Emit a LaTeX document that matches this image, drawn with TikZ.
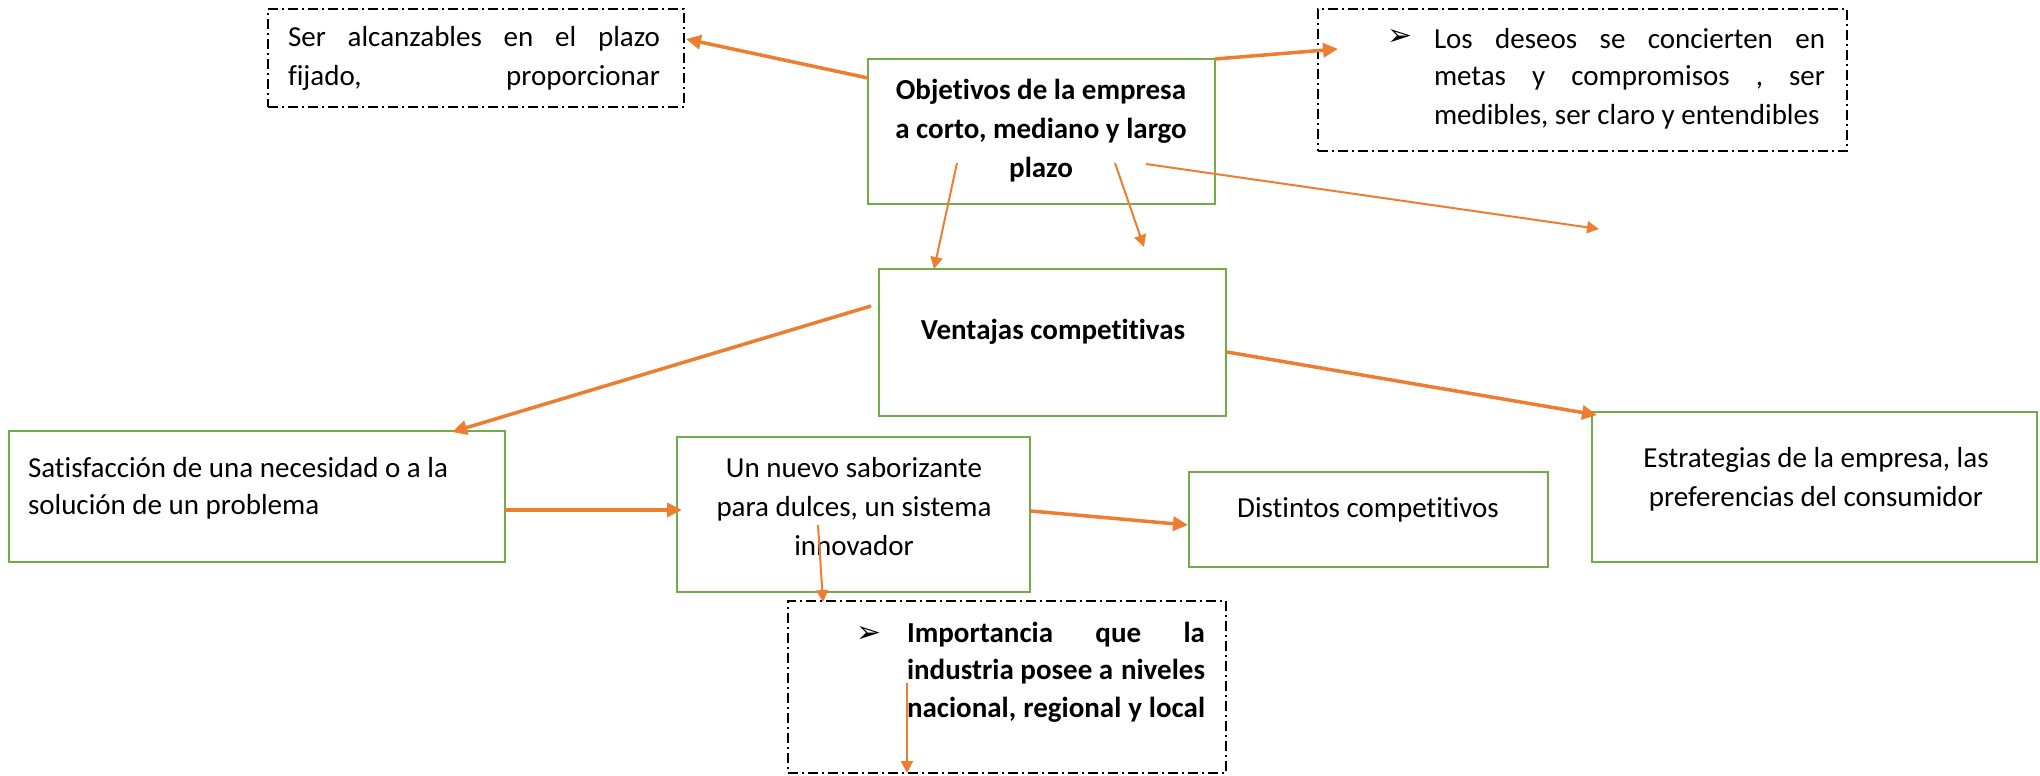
\documentclass[tikz,border=0pt]{standalone}
\usepackage{fontspec}
\setmainfont{Carlito}[Ligatures=NoCommon]
\newfontfamily\dejavu{DejaVu Sans}
\usetikzlibrary{arrows.meta,calc}
\definecolor{boxgreen}{HTML}{70AD47}
\definecolor{arrorange}{HTML}{ED7D31}
\begin{document}
\begin{tikzpicture}[x=1pt,y=-1pt,
  every node/.style={inner sep=0pt, outer sep=0pt},
  txt/.style={font=\fontsize{29}{39}\selectfont},
  btxt/.style={font=\fontsize{29}{39}\selectfont\bfseries},
  gbox/.style={draw=boxgreen, line width=2.5pt},
  dbox/.style={draw=black, line width=2pt, dash pattern=on 10pt off 4pt on 2pt off 4pt},
  bul/.style={font=\dejavu\fontsize{30}{30}\selectfont},
  thick arrow/.style={draw=arrorange, line width=3.5pt, -{Triangle[length=15pt,width=14pt]}},
  thin arrow/.style={draw=arrorange, line width=2pt, -{Triangle[length=12pt,width=12pt]}}]

\useasboundingbox (0,0) rectangle (2040,776);

% boxes
\node[dbox, minimum width=416pt, minimum height=98pt] (boxA) at (476,58) {};
\node[gbox, minimum width=347pt, minimum height=145pt] (obj) at (1041.5,131.5) {};
\node[dbox, minimum width=529pt, minimum height=142pt] (boxB) at (1582.5,80) {};
\node[gbox, minimum width=347pt, minimum height=147pt] (vent) at (1052.5,342.5) {};
\node[gbox, minimum width=496pt, minimum height=131pt] (satisf) at (257,496.5) {};
\node[gbox, minimum width=353pt, minimum height=155pt] (nuevo) at (853.5,514.5) {};
\node[gbox, minimum width=359pt, minimum height=95pt] (dist) at (1368.5,519.5) {};
\node[gbox, minimum width=445pt, minimum height=150pt] (estr) at (1814.5,487) {};
\node[dbox, minimum width=438pt, minimum height=172pt] (imp) at (1007,687) {};

% texts
\node[txt, anchor=west] (ta1) at (288,39) {\hbox to 372pt{Ser\hfill alcanzables\hfill en\hfill el\hfill plazo}};
\node[txt, anchor=west] (ta2) at (288,78) {\hbox to 372pt{fijado,\hfill proporcionar}};

\node[btxt, align=center] (tobj) at (1041,131) {Objetivos de la empresa\\a corto, mediano y largo\\plazo};

\node[bul] (bb) at (1400,38) {➢};
\node[txt, anchor=west] (tb1) at (1434,39) {\hbox to 391pt{Los\hfill deseos\hfill se\hfill concierten\hfill en}};
\node[txt, anchor=west] (tb2) at (1434,78) {\hbox to 391pt{metas\hfill y\hfill compromisos\hfill ,\hfill ser}};
\node[txt, anchor=west] (tb3) at (1434,117) {\hbox to 391pt{medibles, ser claro y entendibles\hfill}};

\node[btxt] (tvent) at (1053,332) {Ventajas competitivas};

\node[txt, anchor=west] (ts1) at (28,468) {Satisfacción de una necesidad o a la};
\node[txt, anchor=west] (ts2) at (28,507) {solución de un problema};

\node[txt, align=center] (tnuevo) at (854,507) {Un nuevo saborizante\\para dulces, un sistema\\innovador};

\node[txt] (tdist) at (1368,510) {Distintos competitivos};

\node[txt, align=center] (testr) at (1816,479) {Estrategias de la empresa, las\\preferencias del consumidor};

\node[bul] (bi) at (869,634) {➢};
\node[btxt, anchor=west] (ti1) at (907,635) {\hbox to 298pt{Importancia\hfill que\hfill la}};
\node[btxt, anchor=west] (ti2) at (907,672) {\hbox to 298pt{industria posee a\hfill niveles}};
\node[btxt, anchor=west] (ti3) at (907,710) {\hbox to 298pt{nacional, regional y local}};

% free ends
\coordinate (free1) at (1144,247);
\coordinate (free2) at (1599,229);

% arrows
\draw[thick arrow] ($(obj.north west)+(0,19)$) -- ($(boxA.north east)+(2,30)$);
\draw[thick arrow] (obj.north east) -- ($(boxB.north west)+(20,40)$);
\draw[thin arrow] ($(obj.north west)+(89,104)$) -- ($(vent.north west)+(55,0)$);
\draw[thin arrow] ($(obj.north west)+(247,104)$) -- (free1);
\draw[thin arrow] ($(obj.north west)+(278,105)$) -- (free2);
\draw[thick arrow] ($(vent.north west)+(-8,37)$) -- ($(satisf.north west)+(443,1)$);
\draw[thick arrow] ($(vent.north east)+(1,83)$) -- ($(estr.north west)+(5,3)$);
\draw[thick arrow] ($(satisf.north east)+(0,79)$) -- ($(nuevo.north west)+(5,73)$);
\draw[thick arrow] ($(nuevo.north east)+(1,74)$) -- ($(dist.north west)+(-1,53)$);
\draw[thin arrow] ($(nuevo.north west)+(141,88)$) -- ($(imp.north west)+(35,1)$);
\draw[thin arrow] ($(imp.north west)+(119,82)$) -- ($(imp.south west)+(119,0)$);
\end{tikzpicture}
\end{document}
